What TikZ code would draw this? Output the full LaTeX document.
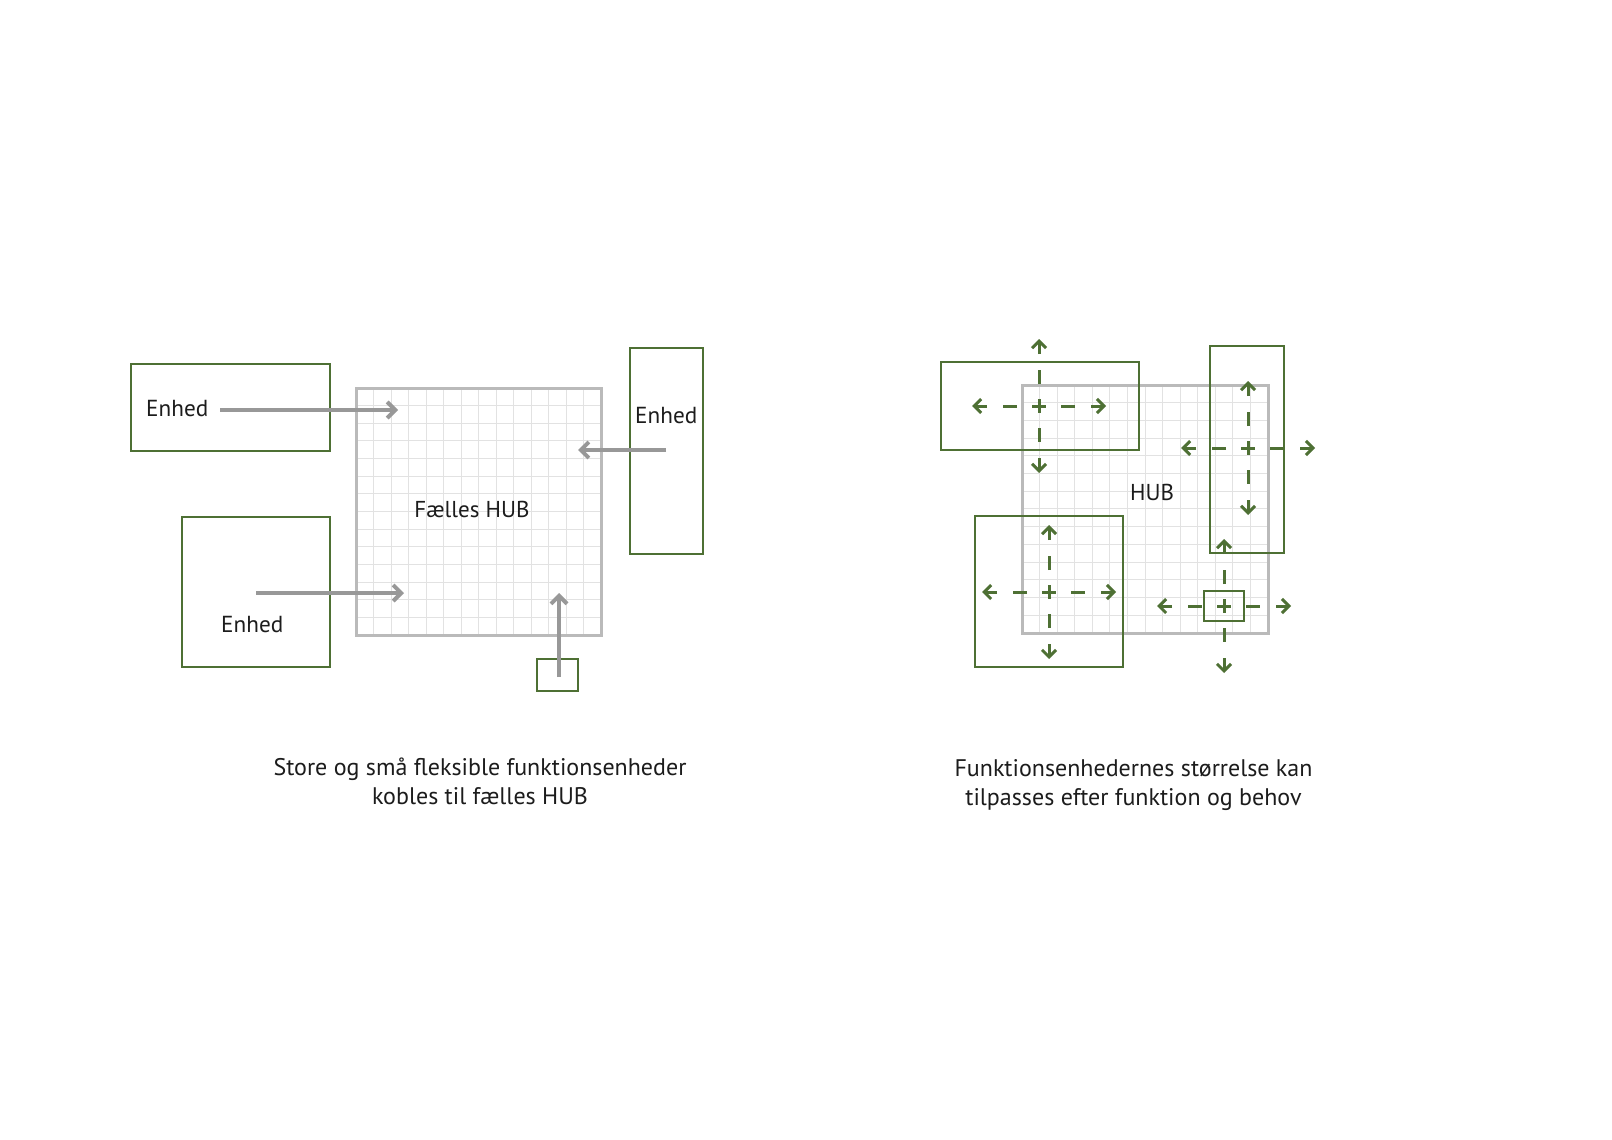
\documentclass[tikz,border=0pt]{standalone}
\usepackage{fontspec}
\setmainfont{PT Sans}
\usetikzlibrary{arrows.meta}
\definecolor{ugreen}{RGB}{78,112,52}
\definecolor{hubline}{RGB}{186,186,186}
\definecolor{gridline}{RGB}{226,226,226}
\definecolor{arrgray}{RGB}{152,152,152}
\definecolor{txt}{RGB}{28,28,28}
\begin{document}
\begin{tikzpicture}[x=1pt,y=-1pt,
  unitbox/.style={draw=ugreen, line width=2.6pt, inner sep=0pt, outer sep=0pt},
  thinbox/.style={draw=ugreen, line width=1.5pt, inner sep=0pt, outer sep=0pt},
  hubbox/.style={draw=hubline, line width=3pt, inner sep=0pt, outer sep=0pt},
  gridstyle/.style={draw=gridline, line width=1pt},
  grayarrow/.style={draw=arrgray, line width=4pt, -{Straight Barb[length=8pt,width=16pt,line width=4pt]}},
  gline/.style={draw=ugreen, line width=3pt},
  garrow/.style={draw=ugreen, line width=3pt, -{Straight Barb[length=7pt,width=14pt,line width=3pt]}},
  lbl/.style={text=txt, inner sep=0pt, font=\fontsize{23.2}{28}\selectfont},
  hublbl/.style={text=txt, inner sep=0pt, font=\fontsize{23}{28}\selectfont},
  biglbl/.style={text=txt, inner sep=0pt, font=\fontsize{24}{29}\selectfont},
  armcross/.pic={
    \draw[gline] (-7,0) -- (7,0) (0,-7) -- (0,7);
    \foreach \a in {0,90,180,270}{
      \draw[gline, rotate=\a] (22,0) -- (36,0);
      \draw[garrow, rotate=\a] (52,0) -- (67,0);
    }
  }
]
\useasboundingbox[fill=white] (0,0) rectangle (1612,1140);

% ---------------- left diagram ----------------
\foreach \i in {1,...,13}{
  \draw[gridstyle] (356+\i*17.5,388) -- (356+\i*17.5,635);
  \draw[gridstyle] (356,388+\i*17.64) -- (601,388+\i*17.64);
}
\node[hubbox, minimum width=245pt, minimum height=247pt] (hubL) at (478.5,511.5) {};
\node[hublbl, anchor=base] (hubLtxt) at (472,517) {Fælles HUB};

\node[unitbox, minimum width=199pt, minimum height=87pt] (u1) at (230.5,407.5) {};
\node[unitbox, minimum width=73pt, minimum height=206pt] (u2) at (666.5,451) {};
\node[unitbox, minimum width=148pt, minimum height=150pt] (u3) at (256,592) {};
\node[unitbox, minimum width=41pt, minimum height=32pt] (u4) at (557.5,675) {};

\node[lbl, anchor=base west] (t1) at (146,416) {Enhed};
\node[lbl, anchor=base west] (t2) at (635,423) {Enhed};
\node[lbl, anchor=base west] (t3) at (221,632) {Enhed};

\coordinate (a1s) at (220,410);  \coordinate (a1e) at (398,410);
\coordinate (a2s) at (666,450);  \coordinate (a2e) at (578,450);
\coordinate (a3s) at (256,593);  \coordinate (a3e) at (404,593);
\coordinate (a4s) at (559,677);  \coordinate (a4e) at (559,593);
\draw[grayarrow] (a1s) -- (a1e);
\draw[grayarrow] (a2s) -- (a2e);
\draw[grayarrow] (a3s) -- (a3e);
\draw[grayarrow] (a4s) -- (a4e);

\node[biglbl, anchor=base] (capL1) at (480,775) {Store og små fleksible funktionsenheder};
\node[biglbl, anchor=base] (capL2) at (480,804) {kobles til fælles HUB};

% ---------------- right diagram ----------------
\foreach \i in {1,...,13}{
  \draw[gridstyle] (1022+\i*17.57,385) -- (1022+\i*17.57,633);
  \draw[gridstyle] (1022,385+\i*17.71) -- (1268,385+\i*17.71);
}
\node[hubbox, minimum width=246pt, minimum height=248pt] (hubR) at (1145,509) {};
\node[hublbl, anchor=base] (hubRtxt) at (1152,500) {HUB};

\node[thinbox, minimum width=198pt, minimum height=88pt] (ra) at (1040,406) {};
\node[thinbox, minimum width=74pt, minimum height=207pt] (rb) at (1247,449.5) {};
\node[thinbox, minimum width=148pt, minimum height=151pt] (rc) at (1049,591.5) {};
\node[thinbox, minimum width=40pt, minimum height=30pt] (rd) at (1224,606) {};

\pic at (1039,406) {armcross};
\pic at (1248,448) {armcross};
\pic at (1049,592) {armcross};
\pic at (1224,606) {armcross};

\node[biglbl, anchor=base] (capR1) at (1133.5,776) {Funktionsenhedernes størrelse kan};
\node[biglbl, anchor=base] (capR2) at (1133.5,805) {tilpasses efter funktion og behov};
\end{tikzpicture}
\end{document}
